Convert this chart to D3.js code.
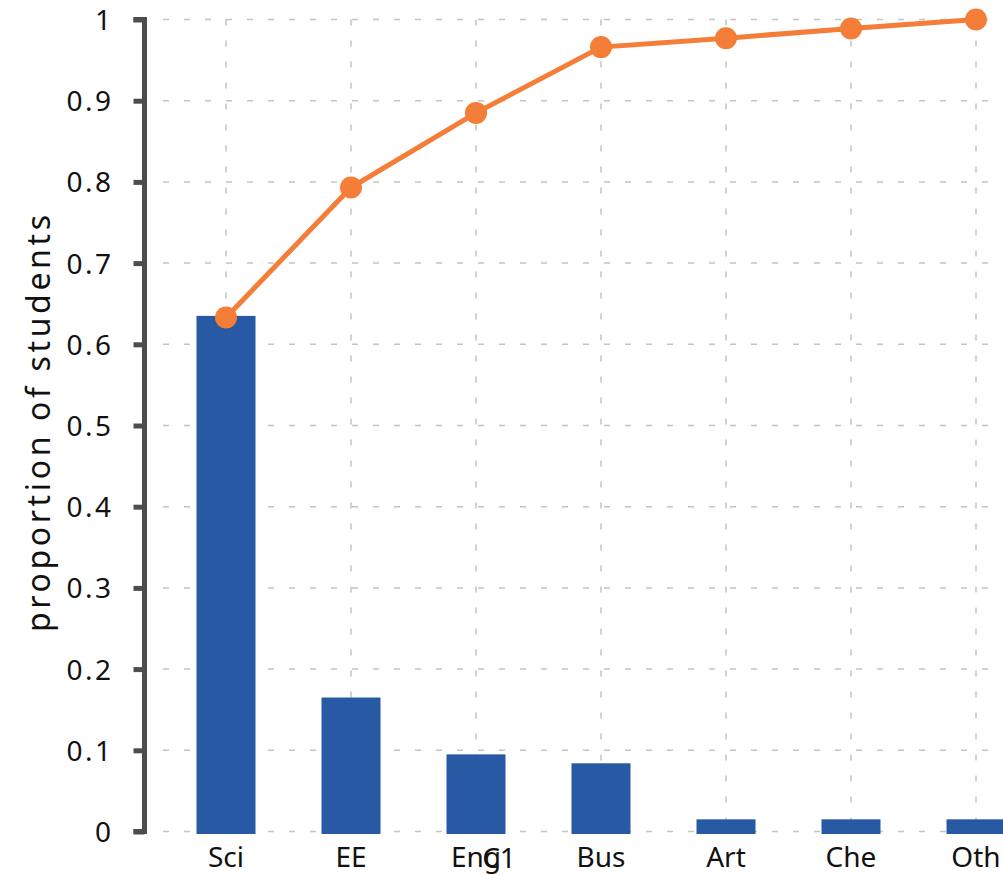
<!DOCTYPE html>
<html><head><meta charset="utf-8">
<script src="https://cdn.jsdelivr.net/npm/d3@7"></script>
<style>body{margin:0;background:#fff}svg{display:block}text{font-family:"Noto Sans",sans-serif}</style>
</head><body><svg id="c" width="1003" height="875"></svg>
<script>
const categories = ["Sci","EE","Eng","Bus","Art","Che","Oth"];
const proportions = [0.635, 0.165, 0.095, 0.084, 0.015, 0.015, 0.015];
const cumulative = [0.633, 0.793, 0.885, 0.966, 0.977, 0.989, 1.0];
const yTicks = [0,0.1,0.2,0.3,0.4,0.5,0.6,0.7,0.8,0.9,1];
const yTickLabels = ["0","0.1","0.2","0.3","0.4","0.5","0.6","0.7","0.8","0.9","1"];

const svg = d3.select("#c");
const x = d3.scaleBand().domain(categories).range([163.5, 1038.5]).paddingInner(0.528).paddingOuter(0.264);
const y = d3.scaleLinear().domain([0,1]).range([831.5, 19.5]);
const xc = d => x(d) + x.bandwidth()/2;

// grid
const g = svg.append("g");
g.selectAll("line.h").data(yTicks).join("line")
  .attr("x1",163).attr("x2",1003).attr("y1",d=>y(d)).attr("y2",d=>y(d))
  .attr("stroke","#c4c4c4").attr("stroke-width",1.5).attr("stroke-dasharray","6,15");
g.selectAll("line.v").data(categories).join("line")
  .attr("x1",d=>xc(d)).attr("x2",d=>xc(d)).attr("y1",y(1)).attr("y2",y(0))
  .attr("stroke","#c4c4c4").attr("stroke-width",1.5).attr("stroke-dasharray","6,15");

// bars
svg.append("g").selectAll("rect").data(categories).join("rect")
  .attr("x",d=>x(d)).attr("width",x.bandwidth())
  .attr("y",(d,i)=>y(proportions[i])).attr("height",(d,i)=>y(0)-y(proportions[i])+2.5)
  .attr("fill","#2759a5");

// line
const line = d3.line().x((d,i)=>xc(categories[i])).y(d=>y(d));
svg.append("path").datum(cumulative).attr("d",line).attr("fill","none")
  .attr("stroke","#f47d37").attr("stroke-width",5);
svg.append("g").selectAll("circle").data(cumulative).join("circle")
  .attr("cx",(d,i)=>xc(categories[i])).attr("cy",d=>y(d)).attr("r",11).attr("fill","#f47d37");

// y axis
const ay = svg.append("g").attr("transform","translate(144.5,0)")
  .call(d3.axisLeft(y).tickValues(yTicks).tickFormat((d,i)=>yTickLabels[i]).tickSize(11).tickPadding(20));
ay.select(".domain").attr("stroke","#4d4d4d").attr("stroke-width",5).attr("d","M-11,"+y(1)+"H0V"+y(0)+"H-11");
ay.selectAll(".tick line").attr("stroke","#4d4d4d").attr("stroke-width",5);
ay.selectAll(".tick text").attr("font-size",28).attr("fill","#111").attr("font-family","Noto Sans")
  .attr("letter-spacing",2.5).attr("dy","0.36em");

// x labels
svg.append("g").selectAll("text").data(categories).join("text")
  .attr("x",d=>xc(d)).attr("y",867).attr("text-anchor","middle").attr("font-size",28).attr("fill","#111").text(d=>d);
svg.append("text").attr("x",499).attr("y",868).attr("text-anchor","middle").attr("font-size",28).attr("fill","#111").text("C1");

svg.append("text").attr("transform","translate(50,423.5) rotate(-90)").attr("text-anchor","middle")
  .attr("font-size",32).attr("fill","#111").attr("textLength",417).attr("lengthAdjust","spacing").text("proportion of students");
</script></body></html>
